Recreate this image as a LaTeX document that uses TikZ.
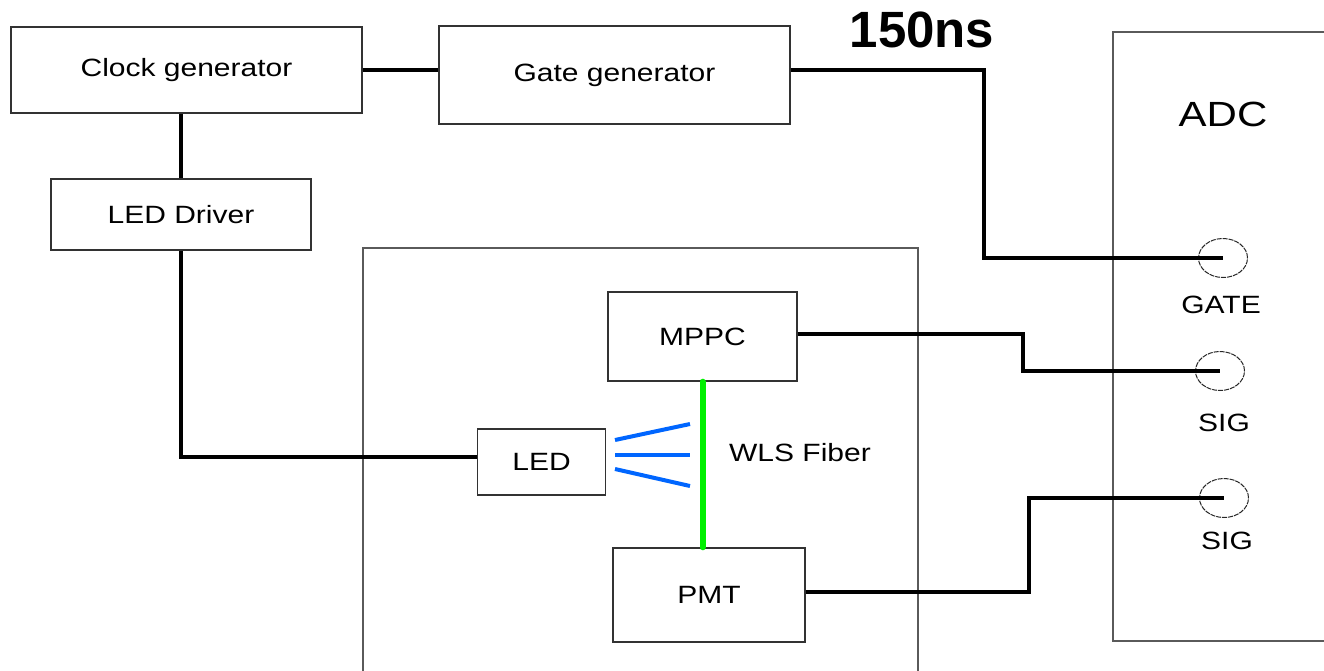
\documentclass[tikz,border=0pt]{standalone}
\usepackage{fontspec}
\setmainfont{Liberation Sans}[FakeStretch=1.2]
\newfontfamily\delayfont{Liberation Sans}
\usepackage{tikz}
\usetikzlibrary{positioning,shapes.geometric}
\definecolor{fibergreen}{RGB}{0,240,0}
\definecolor{lightblue}{RGB}{0,102,255}
\definecolor{frame}{RGB}{50,50,50}
\definecolor{housing}{RGB}{90,90,90}

\begin{document}
\begin{tikzpicture}[x=1pt,y=-1pt,
  blk/.style={rectangle,draw=frame,line width=1.4pt,inner sep=0pt,font=\fontsize{25}{30}\selectfont},
  lbl/.style={inner sep=0pt,font=\fontsize{25}{30}\selectfont},
  port/.style={ellipse,draw=black!85,line width=1pt,dash pattern=on 5pt off 1pt,minimum width=49pt,minimum height=39pt,inner sep=0pt},
  wire/.style={black,line width=4pt},
  fiber/.style={fibergreen,line width=6pt,line cap=round},
  ray/.style={lightblue,line width=4pt}]
  \useasboundingbox (0,0) rectangle (1324,670);
  % housings
  \draw[housing,line width=1.2pt] (363,680) -- (363,248) -- (918,248) -- (918,680);
  \draw[housing,line width=1.2pt] (1113,32) rectangle (1340,641);
  \node[lbl,font=\fontsize{35}{40}\selectfont] (adc) at (1223,114) {ADC};
  % blocks
  \node[blk,minimum width=351pt,minimum height=86pt] (clock) at (186.5,70) {Clock generator};
  \node[blk,minimum width=351pt,minimum height=98pt] (gate) at (614.5,75) {Gate generator};
  \node[blk,minimum width=260pt,minimum height=71pt] (driver) at (181,214.5) {LED Driver};
  \node[blk,minimum width=189pt,minimum height=89pt] (mppc) at (702.5,336.5) {MPPC};
  \node[blk,minimum width=128pt,minimum height=66pt] (led) at (541.5,462) {LED};
  \node[blk,minimum width=192pt,minimum height=94pt] (pmt) at (709,595) {PMT};
  \node[lbl] (wls) at (800,453) {WLS Fiber};
  \node[inner sep=0pt,font=\delayfont\bfseries\fontsize{51}{56}\selectfont] (delay) at (922,30) {150ns};
  % ADC inputs
  \node[port] (gatein) at (1223,258) {};
  \node[port] (sigina) at (1220,371) {};
  \node[port] (siginb) at (1224,498) {};
  \node[lbl] (gatelbl) at (1221,305) {GATE};
  \node[lbl] (sigalbl) at (1224,423) {SIG};
  \node[lbl] (sigblbl) at (1227,541) {SIG};
  % fiber and light
  \draw[fiber] (mppc.south) -- (mppc.south |- pmt.north);
  \foreach \ya/\yb in {440/424,455/455,469/486}
    \draw[ray] (615,\ya) -- (690,\yb);
  % cables
  \draw[wire] (clock.east) -- (clock.east -| gate.west);
  \draw[wire] ([yshift=5pt]gate.east) -- ++(193,0) |- (gatein.center);
  \draw[wire] (driver.north) -- (driver.north |- clock.south);
  \draw[wire] (driver.south) |- ([yshift=5pt]led.west);
  \draw[wire] ([yshift=3pt]mppc.east) -- ++(225,0) |- (sigina.center);
  \draw[wire] ([yshift=3pt]pmt.east) -- ++(223,0) |- (siginb.center);
\end{tikzpicture}
\end{document}
